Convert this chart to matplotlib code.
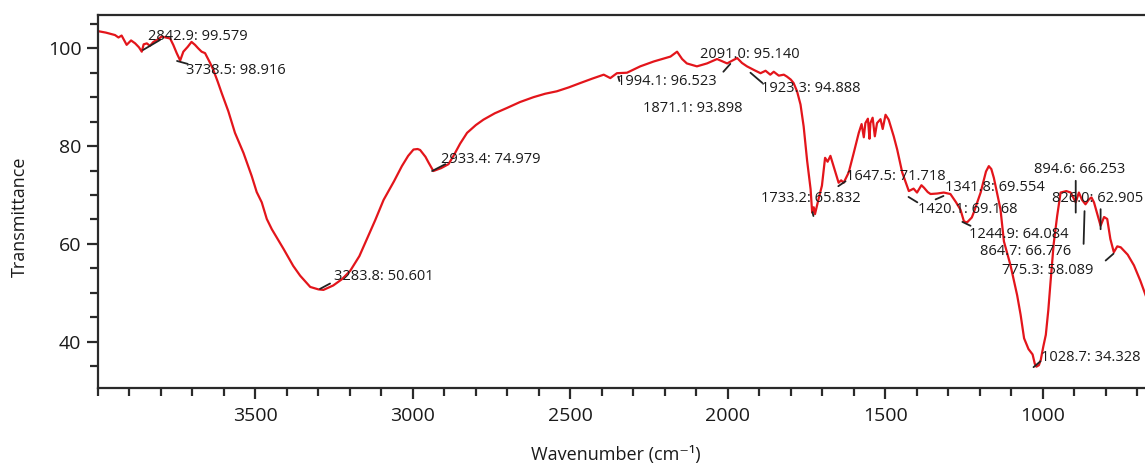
import matplotlib
matplotlib.use("Agg")
import matplotlib.pyplot as plt
from matplotlib.ticker import MultipleLocator
import numpy as np

plt.rcParams['font.family'] = ['Open Sans', 'DejaVu Sans']

# ---- spectrum data (wavenumber cm^-1, transmittance %) ----
wavenumber = [4000, 3975, 3946, 3935, 3925, 3909, 3895, 3882, 3870, 3861, 3855, 3845, 3835, 3824,
              3810, 3798, 3785, 3771, 3761, 3750, 3739, 3729, 3715, 3703, 3692, 3682, 3671, 3660,
              3652, 3644, 3634, 3620, 3607, 3586, 3565, 3538, 3512, 3496, 3480, 3464, 3448, 3411,
              3380, 3358, 3326, 3300, 3284, 3253, 3225, 3199, 3170, 3146, 3120, 3093, 3060, 3035,
              3015, 2998, 2985, 2977, 2960, 2950, 2935, 2910, 2887, 2871, 2850, 2828, 2800, 2776,
              2740, 2701, 2660, 2617, 2580, 2543, 2505, 2468, 2430, 2394, 2373, 2352, 2320, 2278,
              2235, 2182, 2161, 2145, 2130, 2098, 2066, 2034, 2002, 1985, 1970, 1955, 1939, 1915,
              1896, 1880, 1865, 1854, 1838, 1822, 1812, 1800, 1791, 1780, 1769, 1759, 1748, 1737,
              1732, 1727, 1723, 1712, 1701, 1691, 1683, 1674, 1664, 1648, 1640, 1632, 1616, 1600,
              1584, 1575, 1568, 1563, 1555, 1550, 1547, 1540, 1533, 1526, 1515, 1508, 1499, 1489,
              1473, 1462, 1446, 1425, 1410, 1399, 1385, 1377, 1365, 1356, 1335, 1314, 1293, 1275,
              1261, 1250, 1240, 1225, 1219, 1197, 1180, 1171, 1163, 1155, 1134, 1123, 1102, 1081,
              1070, 1059, 1045, 1032, 1025, 1020, 1012, 1006, 998, 990, 982, 975, 965, 954,
              943, 925, 911, 895, 885, 875, 864, 853, 845, 837, 826, 816, 805, 795,
              785, 774, 763, 752, 730, 710, 690, 673]
transmittance = [103.5, 103.2, 102.7, 102.2, 102.6, 100.7, 101.6, 101.0, 100.2, 99.3, 100.8, 101.0, 100.5, 101.3,
                 101.8, 102.4, 102.2, 102.0, 100.7, 99.0, 97.5, 99.3, 100.3, 101.3, 100.7, 100.0, 99.3, 99.0,
                 98.0, 97.0, 95.6, 93.2, 90.8, 87.1, 82.7, 78.6, 73.9, 70.6, 68.5, 65.1, 63.0, 59.0,
                 55.5, 53.5, 51.2, 50.7, 50.6, 51.5, 52.8, 54.5, 57.5, 61.0, 64.8, 69.0, 72.8, 75.9,
                 78.0, 79.3, 79.4, 79.2, 77.8, 76.6, 74.9, 75.5, 76.3, 78.0, 80.5, 82.7, 84.3, 85.4,
                 86.7, 87.8, 89.0, 90.0, 90.7, 91.2, 92.0, 92.9, 93.8, 94.6, 93.9, 94.9, 95.0, 96.3,
                 97.3, 98.3, 99.3, 97.8, 96.9, 96.3, 96.9, 97.8, 96.9, 97.5, 98.0, 97.0, 96.3, 95.5,
                 94.9, 95.4, 94.6, 95.2, 94.4, 94.6, 94.2, 93.6, 92.9, 91.2, 88.5, 84.0, 77.0, 71.2,
                 66.4, 67.5, 66.1, 69.1, 71.9, 77.6, 76.8, 78.0, 75.9, 72.5, 73.0, 72.5, 74.6, 78.6,
                 82.7, 84.5, 81.8, 84.7, 85.6, 81.5, 84.7, 85.8, 82.0, 84.7, 85.5, 83.5, 86.4, 85.4,
                 82.0, 79.3, 74.6, 70.8, 71.3, 70.5, 72.0, 71.5, 70.6, 70.2, 70.3, 70.5, 70.2, 68.5,
                 67.0, 64.6, 64.4, 65.4, 66.4, 70.5, 74.8, 75.9, 75.3, 73.5, 67.1, 60.5, 55.6, 49.5,
                 45.5, 40.7, 38.5, 37.4, 35.5, 34.9, 35.2, 36.3, 39.0, 41.4, 46.5, 52.2, 60.0, 65.7,
                 70.5, 70.8, 70.5, 68.5, 70.5, 69.0, 68.1, 69.1, 69.5, 68.5, 66.0, 63.7, 65.5, 65.1,
                 61.0, 58.3, 59.5, 59.3, 57.8, 55.6, 52.5, 49.5]

# ---- peak labels (as printed on the chart) ----
peak_wn = [2842.9, 3738.5, 3283.8, 2933.4, 2091.0, 1994.1, 1871.1, 1923.3, 1733.2,
           1647.5, 1420.1, 1341.8, 1244.9, 894.6, 826.0, 864.7, 775.3, 1028.7]
peak_val = [99.579, 98.916, 50.601, 74.979, 95.140, 96.523, 93.898, 94.888, 65.832,
            71.718, 69.168, 69.554, 64.084, 66.253, 62.905, 66.776, 58.089, 34.328]

# ---- layout: text anchor (left, centre) and leader segments, data coordinates ----
text_pos = [(3840, 102.4), (3720, 95.4), (3249, 53.4), (2910, 77.3), (2087, 98.8),
            (2352, 93.3), (2270, 87.6), (1893, 91.7), (1893, 69.3), (1624, 73.8),
            (1397, 67.1), (1309, 71.5), (1234, 62.0), (1029, 75.3), (969, 69.3),
            (1199, 58.4), (1128, 54.6), (1004, 36.75)]
leaders = [((3857, 99.65), (3803, 101.7)), ((3749, 97.4), (3715, 96.8)),
           ((3295, 50.8), (3263, 51.9)), ((2939, 74.9), (2897, 76.3)),
           ((2014, 95.2), (1992, 96.8)), ((2348, 94.2), (2344, 93.3)), None,
           ((1928, 95.0), (1890, 92.9)), ((1731, 66.5), (1728, 65.7)),
           ((1649, 71.8), (1626, 72.8)), ((1426, 69.6), (1398, 68.5)),
           ((1340, 69.1), (1315, 69.8)), ((1255, 64.5), (1229, 63.7)),
           ((895, 72.9), (895, 66.4)), ((816, 67.1), (816, 63.0)),
           ((867, 66.7), (870, 60.0)), ((800, 56.6), (775, 58.0)),
           ((1029, 34.8), (1007, 36.0))]

fig = plt.figure(figsize=(11.45, 4.66), dpi=100)
ax = fig.add_axes([98 / 1145, 1 - 387.7 / 466, (1145 - 98) / 1145, (387.7 - 15) / 466])

ax.plot(wavenumber, transmittance, color='#e3151b', lw=1.6, zorder=2)

for (wn, val), (tx, ty), ld in zip(zip(peak_wn, peak_val), text_pos, leaders):
    if ld is not None:
        ax.annotate('', xy=ld[1], xytext=ld[0],
                    arrowprops=dict(arrowstyle='-', color='#222222', lw=1.3,
                                    shrinkA=0, shrinkB=0), zorder=3)
    ax.text(tx, ty, f"{wn:.1f}: {val:.3f}", fontsize=10.5, ha='left', va='center',
            color='#1a1a1a', zorder=4)

ax.set_xlim(4000, 675)
ax.set_ylim(30.6, 106.8)
ax.xaxis.set_major_locator(MultipleLocator(500))
ax.xaxis.set_minor_locator(MultipleLocator(100))
ax.yaxis.set_major_locator(MultipleLocator(20))
ax.yaxis.set_minor_locator(MultipleLocator(5))
ax.set_xticks([3500, 3000, 2500, 2000, 1500, 1000])

for s in ['left', 'bottom', 'top']:
    ax.spines[s].set_linewidth(1.6)
    ax.spines[s].set_color('#2a2a2a')
ax.spines['right'].set_visible(False)

ax.tick_params(axis='both', which='major', direction='out', length=8, width=1.6,
               color='#2a2a2a', labelsize=14, pad=6, labelcolor='#1a1a1a')
ax.tick_params(axis='both', which='minor', direction='out', length=6, width=1.6,
               color='#2a2a2a')
ax.tick_params(axis='y', which='major', pad=4)

fig.text(616 / 1145, 1 - 455 / 466, 'Wavenumber (cm\u207b\u00b9)', fontsize=13,
         ha='center', va='center', color='#1a1a1a')
fig.text(20 / 1145, 1 - 217 / 466, 'Transmittance', fontsize=13, rotation=90,
         ha='center', va='center', color='#1a1a1a')

fig.savefig('out.png', dpi=100)
